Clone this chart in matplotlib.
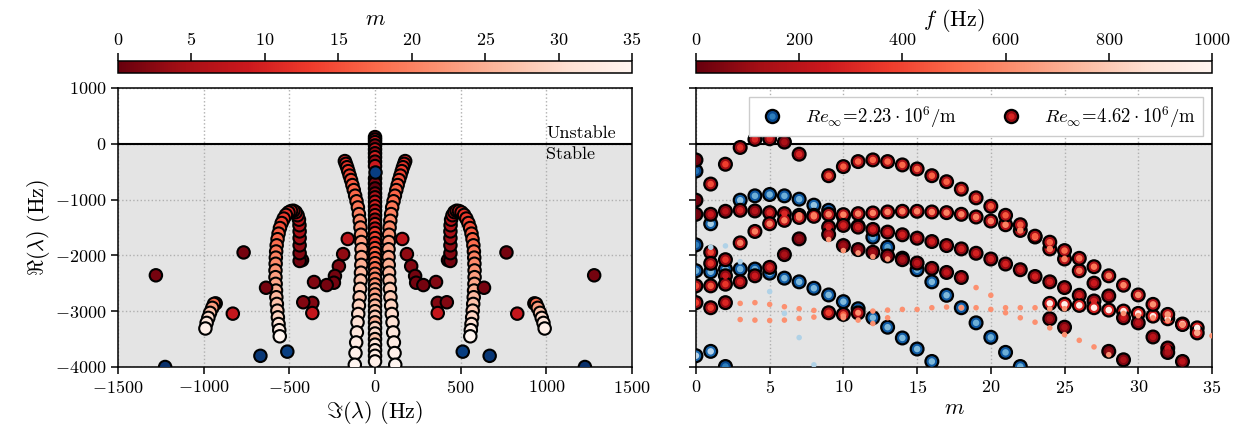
"""Eigenvalue spectrum (left) and growth rate versus azimuthal order m (right)."""

import numpy as np
import matplotlib
matplotlib.use("Agg")
import matplotlib.pyplot as plt
from matplotlib.cm import ScalarMappable
from matplotlib.colors import Normalize
from matplotlib.legend_handler import HandlerTuple
from matplotlib.lines import Line2D

plt.rcParams.update(
    {
        "font.family": "serif",
        "font.serif": ["cmr10"],
        "mathtext.fontset": "cm",
        "axes.formatter.use_mathtext": True,
        "axes.unicode_minus": True,
        "font.size": 13,
        "axes.labelsize": 16,
        "axes.linewidth": 1.1,
        "xtick.major.width": 1.1,
        "ytick.major.width": 1.1,
        "xtick.major.size": 5,
        "ytick.major.size": 5,
    }
)

# ---------------- left panel: Im(lambda) >= 0 half, mirrored (conjugate pairs)
# central column on the real axis
col_re = [120, 75, 30, -30, -100, -170, -240, -320, -400, -620, -710, -800, -890, -960,
          -1040, -1120, -1200, -1280, -1360, -1440, -1520, -1600, -1690, -1780, -1870,
          -1960, -2050, -2140, -2230, -2330, -2420, -2520, -2610, -2700, -2800, -2900,
          -3000, -3100, -3200, -3300, -3400, -3500, -3600, -3700, -3800, -3900]
col_m = [1, 6, 9, 2, 8, 3, 10, 4, 9, 1, 2, 0, 3, 6, 9, 10, 7, 11, 4, 12, 8, 13, 14, 12,
         15, 17, 16, 19, 18, 21, 20, 22, 24, 23, 25, 26, 27, 28, 25, 29, 30, 27, 31, 32,
         33, 34]

# inner arcs
arc_im = [176, 170, 163, 156, 148, 140, 132, 124, 116, 108, 100, 94, 89, 85, 82, 80, 79,
          79, 80, 82, 84, 87, 90, 94, 98, 102, 106, 110, 114, 118]
arc_re = [-310, -360, -420, -490, -570, -650, -740, -830, -930, -1030, -1140, -1260,
          -1380, -1500, -1630, -1760, -1890, -2030, -2170, -2310, -2450, -2600, -2750,
          -2900, -3050, -3200, -3380, -3560, -3750, -3960]
arc_m = [10, 11, 12, 13, 14, 15, 16, 17, 17, 18, 19, 20, 21, 21, 22, 23, 24, 24, 25, 26,
         27, 28, 28, 29, 30, 31, 32, 33, 34, 35]

# horseshoes near +-500 Hz
hs_im = [426, 440, 440, 440, 440, 440, 441, 444, 452, 463, 476, 490, 505, 520, 533, 545,
         555, 563, 569, 574, 577, 579, 580, 581, 581, 580, 578, 576, 573, 570, 567, 563,
         559, 556]
hs_re = [-2085, -2100, -1960, -1820, -1690, -1570, -1460, -1360, -1280, -1225, -1200,
         -1205, -1230, -1275, -1340, -1420, -1510, -1610, -1710, -1820, -1930, -2040,
         -2150, -2270, -2390, -2510, -2630, -2750, -2870, -2990, -3110, -3230, -3340,
         -3450]
hs_m = [0, 1, 2, 3, 4, 5, 6, 7, 8, 9, 10, 10, 11, 12, 13, 14, 15, 16, 17, 18, 19, 20,
        21, 22, 23, 24, 25, 26, 27, 28, 29, 31, 33, 35]

# short outer arcs near +-950 Hz
oa_im = [930, 940, 950, 963, 973, 983, 990]
oa_re = [-2860, -2870, -2940, -3030, -3120, -3210, -3310]
oa_m = [3, 18, 23, 27, 30, 32, 34]

# isolated modes
sc_im = [159, 186, 211, 234, 240, 282, 356, 366, 366, 419, 636, 767, 830, 1279]
sc_re = [-1706, -1977, -2193, -2369, -2490, -2532, -2477, -2851, -3033, -2840, -2580,
         -1947, -3044, -2357]
sc_m = [7, 3, 2, 1, 1, 1, 2, 2, 8, 2, 1, 1, 8, 1]

# lower Reynolds number modes shown on the spectrum
bl_im = [512, 669, 1225]
bl_re = [-3725, -3800, -4000]
bl_m = [2, 1, 0]
bc_re = [-500]
bc_m = [2]

# ---------------- right panel: Re = 4.62e6/m, colour = f (Hz)
r_low_m = [0, 1, 2, 3, 4, 5, 6, 7]
r_low_re = [-290, -722, -367, -66, 78, 90, 30, -187]
r_low_f = [40, 420, 380, 330, 300, 280, 150, 300]

r_arc_m = list(range(9, 35))
r_arc_re = [-572, -409, -319, -289, -319, -379, -451, -572, -680, -813, -969, -1120,
            -1282, -1451, -1656, -1764, -1914, -2053, -2203, -2366, -2534, -2709, -2878,
            -3058, -3239, -3389]
r_arc_f = [450, 470, 480, 490, 490, 490, 490, 480, 470, 460, 460, 450, 450, 460, 470,
           480, 500, 520, 540, 560, 580, 600, 620, 640, 660, 680]

r_row_m = list(range(0, 29))
r_row_re = [-1264, -1264, -1210, -1192, -1204, -1234, -1252, -1282, -1282, -1264, -1270,
            -1252, -1240, -1222, -1210, -1210, -1222, -1234, -1264, -1312, -1385, -1451,
            -1553, -1670, -1884, -2065, -2276, -2498, -2727]
r_row_f = [30, 250, 200, 300, 180, 320, 300, 560, 560, 560, 570, 570, 570, 570, 570, 570,
           570, 570, 570, 570, 570, 570, 570, 570, 560, 560, 540, 250, 250]

r_rise_m = [3, 4, 5, 6, 7, 8]
r_rise_re = [-1776, -1571, -1433, -1372, -1320, -1300]
r_rise_f = [560, 560, 560, 560, 560, 560]

r_dark_m = [7] + list(range(9, 28))
r_dark_re = [-1704, -1493, -1463, -1493, -1535, -1583, -1631, -1692, -1752, -1824, -1884,
             -1962, -2065, -2155, -2257, -2378, -2474, -2577, -2715, -2817]
r_dark_f = [100, 280, 280, 280, 280, 280, 280, 280, 280, 280, 280, 280, 280, 280, 280,
            280, 280, 280, 280, 280]

r_red2_m = list(range(9, 19))
r_red2_re = [-1625, -1824, -1896, -1944, -2010, -2077, -2137, -2233, -2306, -2396]
r_red2_f = [200, 120, 120, 120, 150, 150, 200, 220, 220, 250]

r_lo2_m = [0, 1, 1, 2, 2, 3, 4, 5, 6, 0, 1, 2, 0, 1, 2, 9, 10, 11]
r_lo2_re = [-1011, -1944, -2143, -2077, -2366, -2474, -2366, -2215, -1986, -2546, -2546,
            -2516, -2847, -2938, -2847, -3028, -3058, -3030]
r_lo2_f = [30, 400, 350, 350, 250, 300, 250, 300, 150, 400, 450, 350, 380, 380, 300, 380,
           450, 400]

r_white_m = list(range(24, 35))
r_white_re = [-2860, -2877, -2896, -2938, -2980, -2998, -3040, -3088, -3136, -3230, -3299]
r_white_f = [950, 960, 960, 950, 960, 950, 960, 950, 960, 900, 950]

r_dark2_m = [24, 25, 28, 29, 29, 30, 31, 32, 32, 33]
r_dark2_re = [-3136, -3287, -3720, -3871, -3118, -3209, -3462, -3660, -3740, -3901]
r_dark2_f = [150, 150, 100, 150, 250, 200, 200, 250, 150, 200]

# right panel: Re = 2.23e6/m
b_top_m = list(range(3, 23))
b_top_re = [-1011, -933, -909, -933, -993, -1100, -1192, -1300, -1480, -1674, -1854,
            -2050, -2257, -2474, -2715, -2938, -3209, -3468, -3738, -3991]
b_top_f = [600, 500, 520, 500, 520, 600, 550, 550, 550, 500, 450, 450, 500, 550, 550, 500,
           500, 500, 500, 500]

b_row_m = list(range(0, 17))
b_row_re = [-2275, -2294, -2245, -2245, -2245, -2318, -2408, -2474, -2589, -2709, -2829,
            -2956, -3118, -3287, -3480, -3678, -3901]
b_row_f = [500, 550, 550, 520, 500, 520, 550, 550, 550, 550, 550, 550, 550, 550, 550, 550,
           550]

b_misc_m = [0, 0, 1, 0, 1, 2]
b_misc_re = [-488, -1812, -1433, -3798, -3720, -3991]
b_misc_f = [250, 300, 650, 700, 700, 300]

# unmatched eigenvalues (small dots)
sd_r_m = [3, 4, 5, 6, 7, 8, 10, 11, 12, 13, 14, 15, 16, 17, 18, 19, 20, 21, 22, 23, 24,
          25, 3, 4, 5, 6, 7, 8, 10, 11, 12, 13, 9, 10, 11, 12, 13, 19, 20, 21, 22, 23, 24,
          25, 26, 27, 28, 29, 30, 31, 32, 33, 35]
sd_r_re = [-2860, -2847, -2878, -2920, -2956, -2986, -3088, -3028, -2998, -2980, -2968,
           -2968, -2938, -2926, -2938, -2938, -2968, -2938, -2938, -2938, -2956, -2956,
           -3150, -3160, -3167, -3160, -3130, -3106, -3118, -3160, -3221, -3118, -1716,
           -1914, -1956, -2023, -2065, -2577, -2715, -3028, -3118, -3197, -3299, -3420,
           -3522, -3640, -3780, -3040, -3080, -3120, -3170, -3250, -3440]
sd_b_m = [1, 2, 3, 5, 6, 7, 8]
sd_b_re = [-1854, -1830, -2113, -2649, -3040, -3473, -3961]

RED = plt.get_cmap("Reds_r")
BLUE = plt.get_cmap("Blues_r")


def style(ax):
    ax.axhspan(-4000, 0, color="#e4e4e4", zorder=0)
    ax.axhline(0, color="k", lw=1.5, zorder=1)
    ax.grid(True, ls=":", color="#b0b0b0", lw=1.0)
    ax.set_axisbelow(True)
    ax.set_ylim(-4000, 1000)
    ax.set_yticks(np.arange(-4000, 1001, 1000))
    ax.tick_params(direction="out")


def rings(ax, m, re, f, cmap, zo):
    f = np.asarray(f) / 1000.0
    ax.scatter(m, re, s=85, c=cmap(0.3 * f), edgecolors="k", linewidths=1.6, zorder=zo)
    ax.scatter(m, re, s=22, c=cmap(f), edgecolors="none", zorder=zo + 0.1)


def mirror(im, re, m):
    im = np.asarray(im, float)
    return (np.concatenate([im, -im]), np.concatenate([re, re]), np.concatenate([m, m]))


fig = plt.figure(figsize=(12.41, 4.34), dpi=100)
ax1 = fig.add_axes([0.0951, 0.1544, 0.4142, 0.6429])
ax2 = fig.add_axes([0.5608, 0.1544, 0.4158, 0.6429], sharey=ax1)
cax1 = fig.add_axes([0.0951, 0.832, 0.4142, 0.028])
cax2 = fig.add_axes([0.5608, 0.832, 0.4158, 0.028])

# ---- left
style(ax1)
kw = dict(cmap="Reds_r", vmin=0, vmax=35, s=80, edgecolors="k", linewidths=1.5, zorder=3)
for im, re, m in [(hs_im, hs_re, hs_m), (arc_im, arc_re, arc_m), (oa_im, oa_re, oa_m),
                  (sc_im, sc_re, sc_m)]:
    x, y, c = mirror(im, re, m)
    ax1.scatter(x, y, c=c, **kw)
ax1.scatter(np.zeros(len(col_re)), col_re, c=col_m, **kw)
x, y, c = mirror(bl_im, bl_re, bl_m)
kwb = dict(kw, cmap="Blues_r")
ax1.scatter(x, y, c=c, **kwb)
ax1.scatter(np.zeros(len(bc_re)), bc_re, c=bc_m, **kwb)
ax1.set_xlim(-1500, 1500)
ax1.set_xticks(np.arange(-1500, 1501, 500))
ax1.set_xlabel(r"$\Im(\lambda)$ (Hz)", labelpad=2)
ax1.set_ylabel(r"$\Re(\lambda)$ (Hz)", labelpad=2)
ax1.text(1000, 100, "Unstable", ha="left", va="baseline", zorder=5)
ax1.text(1000, -60, "Stable", ha="left", va="top", zorder=5)

# ---- right
style(ax2)
rings(ax2, b_top_m, b_top_re, b_top_f, BLUE, 3)
rings(ax2, b_row_m, b_row_re, b_row_f, BLUE, 3)
rings(ax2, b_misc_m, b_misc_re, b_misc_f, BLUE, 3)
for m, re, f in [(r_row_m, r_row_re, r_row_f), (r_rise_m, r_rise_re, r_rise_f),
                 (r_dark_m, r_dark_re, r_dark_f), (r_red2_m, r_red2_re, r_red2_f),
                 (r_lo2_m, r_lo2_re, r_lo2_f), (r_white_m, r_white_re, r_white_f),
                 (r_dark2_m, r_dark2_re, r_dark2_f), (r_arc_m, r_arc_re, r_arc_f),
                 (r_low_m, r_low_re, r_low_f)]:
    rings(ax2, m, re, f, RED, 4)
ax2.scatter(sd_b_m, sd_b_re, s=16, color=BLUE(0.68), edgecolors="none", zorder=5)
ax2.scatter(sd_r_m, sd_r_re, s=16, color=RED(0.62), edgecolors="none", zorder=5)
ax2.set_xlim(0, 35)
ax2.set_xticks(np.arange(0, 36, 5))
ax2.set_xlabel(r"$m$", labelpad=2)
ax2.tick_params(labelleft=False)

h_blue = (Line2D([], [], ls="", marker="o", ms=9.5, mfc=BLUE(0.1), mec="k", mew=1.6),
          Line2D([], [], ls="", marker="o", ms=4.5, mfc=BLUE(0.3), mec="none"))
h_red = (Line2D([], [], ls="", marker="o", ms=9.5, mfc=RED(0.1), mec="k", mew=1.6),
         Line2D([], [], ls="", marker="o", ms=4.5, mfc=RED(0.3), mec="none"))
leg = ax2.legend([h_blue, h_red],
                 [r"$Re_{\infty}\!=\!2.23\cdot10^6/\mathrm{m}$",
                  r"$Re_{\infty}\!=\!4.62\cdot10^6/\mathrm{m}$"],
                 handler_map={tuple: HandlerTuple(ndivide=1)}, ncol=2,
                 loc="upper right", fancybox=False, edgecolor="0.8", framealpha=1,
                 fontsize=13.5, handlelength=1.75, handletextpad=0.9, columnspacing=2.0,
                 borderpad=0.35)
leg.set_zorder(10)

# ---- colorbars
for cax, norm, ticks, label in [(cax1, Normalize(0, 35), np.arange(0, 36, 5), r"$m$"),
                                (cax2, Normalize(0, 1000), np.arange(0, 1001, 200),
                                 r"$f$ (Hz)")]:
    cb = fig.colorbar(ScalarMappable(norm=norm, cmap="Reds_r"), cax=cax,
                      orientation="horizontal")
    cb.set_ticks(ticks)
    cb.outline.set_linewidth(1.1)
    cax.xaxis.set_ticks_position("top")
    cax.xaxis.set_label_position("top")
    cax.tick_params(length=6, width=1.1)
    cb.set_label(label, labelpad=4)

fig.savefig("out.png", dpi=100)
